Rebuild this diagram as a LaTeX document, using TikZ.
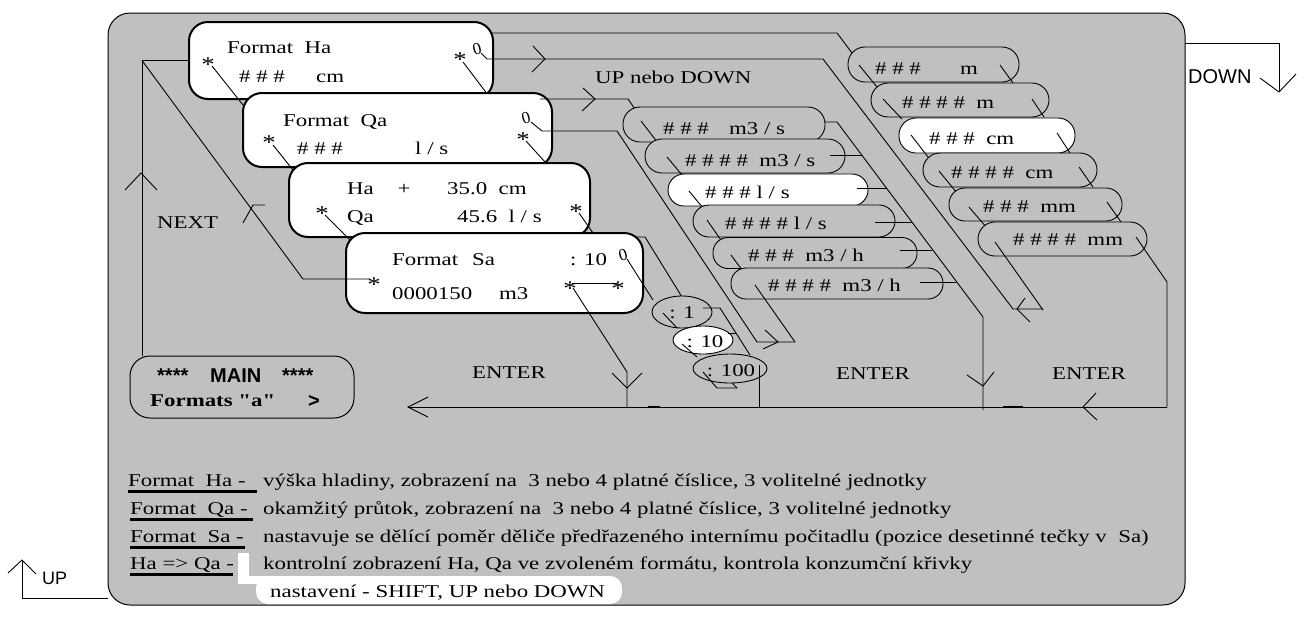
\documentclass[tikz,border=0pt]{standalone}
\usepackage{fontspec}
\setmainfont{Liberation Serif}
\newfontfamily\dfont[FakeStretch=1.27]{Liberation Serif}
\newfontfamily\sfont{Liberation Sans}
\usetikzlibrary{shapes.geometric}
\definecolor{pg}{HTML}{C0C0C0}
\tikzset{
  panel/.style={fill=pg, draw=black, line width=1pt, rounded corners=22pt, inner sep=0pt},
  dbox/.style={fill=white, draw=black, line width=2pt, rounded corners=19pt, inner sep=0pt},
  ovg/.style={fill=pg, draw=black, line width=0.9pt, inner sep=0pt},
  ovw/.style={fill=white, draw=black, line width=0.9pt, inner sep=0pt},
  ell/.style={ellipse, draw=black, line width=0.9pt, inner sep=0pt},
  ln/.style={line width=0.9pt},
  tx/.style={font=\dfont\fontsize{18}{20}\selectfont, inner sep=0pt, anchor=west, text height=12pt, text depth=0pt},
  txc/.style={tx, anchor=center},
  txb/.style={font=\dfont\bfseries\fontsize{18}{20}\selectfont, inner sep=0pt, anchor=west, text height=12pt, text depth=0pt},
  st/.style={font=\dfont\fontsize{21}{22}\selectfont, inner sep=0pt},
  oo/.style={font=\fontsize{17}{18}\selectfont, inner sep=0pt, anchor=center, text height=11pt, text depth=0pt, rotate=15},
  sf/.style={font=\sfont\fontsize{20}{22}\selectfont, inner sep=0pt, anchor=west, text height=14pt, text depth=0pt},
  sfb/.style={font=\sfont\bfseries\fontsize{20}{22}\selectfont, inner sep=0pt, anchor=west, text height=14pt, text depth=0pt},
  uline/.style={line width=3pt},
}
\begin{document}
\begin{tikzpicture}[x=1pt,y=-1pt]
\useasboundingbox (0,0) rectangle (1305,619);
% panel
\node[panel, minimum width=1077, minimum height=592] (panel) at (646.5,309) {};
% outside arrows
\draw[ln] (1185,43) -- (1279,43) -- (1279,92);
\draw[ln] (1260,78) -- (1279,92) -- (1296,74);
\node[sf] (down) at (1188,76) {DOWN};
\draw[ln] (108,598) -- (22,598) -- (22,560);
\draw[ln] (8,573) -- (22,560) -- (36,574);
\node[sf, font=\sfont\fontsize{18}{20}\selectfont] (up) at (42,577) {UP};

% left loop
\coordinate (lc) at (142,60.5);
\draw[ln] (189,60.5) -- (lc) -- (142,356);
\draw[ln] (125,190) -- (141,173) -- (157,190);
\draw[ln] (243,223) -- (253,205) -- (265,205);

% Ha box
\node[dbox, minimum width=304, minimum height=77] (ha) at (341,60.5) {};
\draw[ln] (490,33) -- (837,33) -- (852,53);
\draw[ln] (481,53) -- (487,59) -- (823,59) -- (1013,309) -- (1043,309);
\draw[ln] (533,46) -- (545,59) -- (532,72);
\draw[ln] (1025,298) -- (1017,309) -- (1030,322);
\draw[ln] (212,66) -- (247,110);
\draw[ln] (463,62) -- (488,95);

% Qa box
\node[dbox, minimum width=309, minimum height=74] (qa) at (397.5,130) {};
\draw[ln] (540,99) -- (628,99) -- (637,112);
\draw[ln] (583,88) -- (595,99) -- (582,111);
\draw[ln] (531,122) -- (542,131) -- (617,131) -- (757,342) -- (795,342);
\draw[ln] (765,330) -- (778,342) -- (763,349);
\draw[ln] (273,145) -- (293,170);
\draw[ln] (526,141) -- (545,162);

% Ha+ box
\node[dbox, minimum width=301, minimum height=74] (hq) at (439.5,200) {};
\draw[ln] (325,215) -- (350,240);
\draw[ln] (579,213) -- (593,233);

% Sa box
\node[dbox, minimum width=297, minimum height=80] (sa) at (494.5,273) {};
\draw[ln] (635,237) -- (645,237) -- (682,297);
\draw[ln] (627,259) -- (653,300);
\draw[ln] (572,283) -- (617,283);
\draw[ln] (573,288) -- (627,372) -- (627,407);
\draw[ln] (612,373) -- (627,388) -- (642,373);
\draw[ln] (lc) -- (303,279) -- (370,279);

% right diagonal of first group
\draw[ln] (813,122) -- (837,122) -- (983,317) -- (983,410);
\draw[ln] (967,375) -- (983,386) -- (994,372);

% first oval group
\node[ovg, rounded corners=17pt, minimum width=202, minimum height=35] (o1) at (724,124.5) {};
\draw[ln] (641,121) -- (658,143);
\node[ovg, rounded corners=17pt, minimum width=200, minimum height=34] (o2) at (745,156) {};
\draw[ln] (667,157) -- (682,175);
\node[ovw, rounded corners=16pt, minimum width=200, minimum height=32] (o3) at (768,190) {};
\draw[ln] (689,191) -- (703,208);
\node[ovg, rounded corners=16pt, minimum width=202, minimum height=32] (o4) at (794,221) {};
\draw[ln] (707,220) -- (723,243);
\node[ovg, rounded corners=15pt, minimum width=204, minimum height=31] (o5) at (815,253) {};
\draw[ln] (731,255) -- (742,270);
\node[ovg, rounded corners=15pt, minimum width=212, minimum height=31] (o6) at (837,283.5) {};
\draw[ln] (755,285) -- (795,342);
\draw[ln] (830,155) -- (862,155);
\draw[ln] (857,188) -- (887,188);
\draw[ln] (875,222) -- (912,222);
\draw[ln] (900,250) -- (932,250);
\draw[ln] (920,282) -- (956,282);

% second oval group
\node[ovg, rounded corners=17pt, minimum width=171, minimum height=35] (p1) at (933.5,64.5) {};
\draw[ln] (859,65) -- (877,87);
\draw[ln] (1000,65) -- (1013,83);
\node[ovg, rounded corners=17pt, minimum width=178, minimum height=34] (p2) at (960,100) {};
\draw[ln] (883,99) -- (902,119);
\draw[ln] (1032,99) -- (1044,117);
\node[ovw, rounded corners=17pt, minimum width=176, minimum height=35] (p3) at (987,135.5) {};
\draw[ln] (911,135) -- (928,157);
\draw[ln] (1057,133) -- (1070,153);
\node[ovg, rounded corners=17pt, minimum width=174, minimum height=34] (p4) at (1010,170) {};
\draw[ln] (939,171) -- (957,193);
\draw[ln] (1079,167) -- (1093,187);
\node[ovg, rounded corners=16pt, minimum width=173, minimum height=33] (p5) at (1035.5,204.5) {};
\draw[ln] (969,207) -- (987,228);
\draw[ln] (1107,202) -- (1121,222);
\node[ovg, rounded corners=17pt, minimum width=169, minimum height=34] (p6) at (1062.5,239) {};
\draw[ln] (995,242) -- (1043,310);
\draw[ln] (1136,237) -- (1167,282) -- (1167,407);

% Sa ovals
\node[ell, fill=pg, minimum width=60, minimum height=32] (e1) at (682,312) {};
\draw[ln] (663,313) -- (677,328);
\node[ell, fill=white, minimum width=60, minimum height=28] (e2) at (703,340) {};
\draw[ln] (703,308) -- (720,308) -- (750,355);
\draw[ln] (682,344) -- (697,357);
\draw[ln] (728,333) -- (736,333);
\node[ell, fill=pg, minimum width=74, minimum height=29] (e3) at (730,368.5) {};
\draw[ln] (703,372) -- (717,388) -- (737,388);
\draw[ln] (732,383) -- (737,388);
\draw[ln] (759,365) -- (759,407);

% bottom line
\draw[ln] (1167,407) -- (408,407);
\draw[ln] (428,397) -- (408,407) -- (428,417);
\draw[ln] (1096,393) -- (1083,407) -- (1097,420);
\draw[line width=2.5pt] (648,407) -- (660,407);
\draw[line width=2.5pt] (1003,407) -- (1023,407);

% MAIN box
\node[panel, rounded corners=20pt, minimum width=224, minimum height=62] (main) at (242,387) {};
\node[sfb] (m1) at (157,375) {****};
\node[sfb] (m2) at (210,375) {MAIN};
\node[sfb] (m3) at (282,375) {****};
\node[txb] (m4) at (150,400) {Formats "a"};
\node[sfb] (m5) at (308,400) {>};

% box texts
\node[tx] (t1) at (227,47) {Format\ \ Ha};
\node[tx] (t2) at (239,76) {\# \# \#};
\node[tx] (t3) at (316,76) {cm};
\node[st] (s1) at (208,65) {*};
\node[st] (s2) at (460,60) {*};
\node[oo] (q1) at (477,49) {0};

\node[tx] (t4) at (283,120) {Format\ \ Qa};
\node[tx] (t5) at (297,148) {\# \# \#};
\node[tx] (t6) at (415,148) {l / s};
\node[st] (s3) at (269,143) {*};
\node[st] (s4) at (523,140) {*};
\node[oo] (q2) at (526,118) {0};

\node[tx] (t7) at (347,188) {Ha};
\node[txc] (t8) at (404,188) {+};
\node[tx] (t9) at (447,188) {35.0\ \ cm};
\node[tx] (t10) at (347,216) {Qa};
\node[tx] (t11) at (457,216) {45.6\ \ l / s};
\node[st] (s5) at (322,214) {*};
\node[st] (s6) at (576,212) {*};

\node[tx] (t12) at (392,259) {Format\hspace{14pt}Sa};
\node[tx] (t13) at (570,259) {: 10};
\node[tx] (t14) at (392,293) {0000150};
\node[tx] (t15) at (499,293) {m3};
\node[oo] (q3) at (623,255) {0};
\node[st] (s7) at (374,285) {*};
\node[st] (s8) at (570,289) {*};
\node[st] (s9) at (618,289) {*};

% labels
\node[tx] (t16) at (595,77) {UP nebo DOWN};
\node[tx] (t17) at (157,222) {NEXT};
\node[tx] (t18) at (472,372) {ENTER};
\node[tx] (t19) at (836,373) {ENTER};
\node[tx] (t20) at (1052,373) {ENTER};

% oval texts
\node[tx] (u1) at (663,128) {\# \# \#};
\node[tx] (u1b) at (729,128) {m3 / s};
\node[tx] (u2) at (685,160) {\# \# \# \#\ \ m3 / s};
\node[tx] (u3) at (705,192) {\# \# \# l / s};
\node[tx] (u4) at (725,223) {\# \# \# \# l / s};
\node[tx] (u5) at (748,255) {\# \# \#\ \ m3 / h};
\node[tx] (u6) at (768,285) {\# \# \# \#\ \ m3 / h};
\node[tx] (v1) at (875,68) {\# \# \#};
\node[tx] (v1b) at (960,68) {m};
\node[tx] (v2) at (902,102) {\# \# \# \#\ \ m};
\node[tx] (v3) at (929,138) {\# \# \#\ \ cm};
\node[tx] (v4) at (951,172) {\# \# \# \#\ \ cm};
\node[tx] (v5) at (983,206) {\# \# \#\ \ mm};
\node[tx] (v6) at (1013,239) {\# \# \# \#\ \ mm};
\node[txc] (w1) at (682,312) {: 1};
\node[txc] (w2) at (705,341) {: 10};
\node[txc] (w3) at (731,370) {: 100};

% legend
\fill[white] (238,553) rectangle (249,584);
\fill[white] (238,576) rectangle (270,584);
\fill[white, rounded corners=12pt] (256,576) rectangle (622,604);
\node[tx] (l1) at (128,480) {Format\ \ Ha -};
\node[tx] (l2) at (130,508) {Format\ \ Qa -};
\node[tx] (l3) at (130,536) {Format\ \ Sa -};
\node[tx] (l4) at (130,563) {Ha => Qa -};
\draw[uline] (128,491) -- (257,491);
\draw[uline] (130,519) -- (253,519);
\draw[uline] (130,547) -- (245,547);
\draw[uline] (130,574) -- (233,574);
\node[tx] (d1) at (263,480) {výška hladiny, zobrazení na\ \ 3 nebo 4 platné číslice, 3 volitelné jednotky};
\node[tx] (d2) at (263,508) {okamžitý průtok, zobrazení na\ \ 3 nebo 4 platné číslice, 3 volitelné jednotky};
\node[tx] (d3) at (263,536) {nastavuje se dělící poměr děliče předřazeného internímu počitadlu (pozice desetinné tečky v\ \ Sa)};
\node[tx] (d4) at (263,563) {kontrolní zobrazení Ha, Qa ve zvoleném formátu, kontrola konzumční křivky};
\node[tx] (d5) at (270,591) {nastavení - SHIFT, UP nebo DOWN};
\end{tikzpicture}
\end{document}
